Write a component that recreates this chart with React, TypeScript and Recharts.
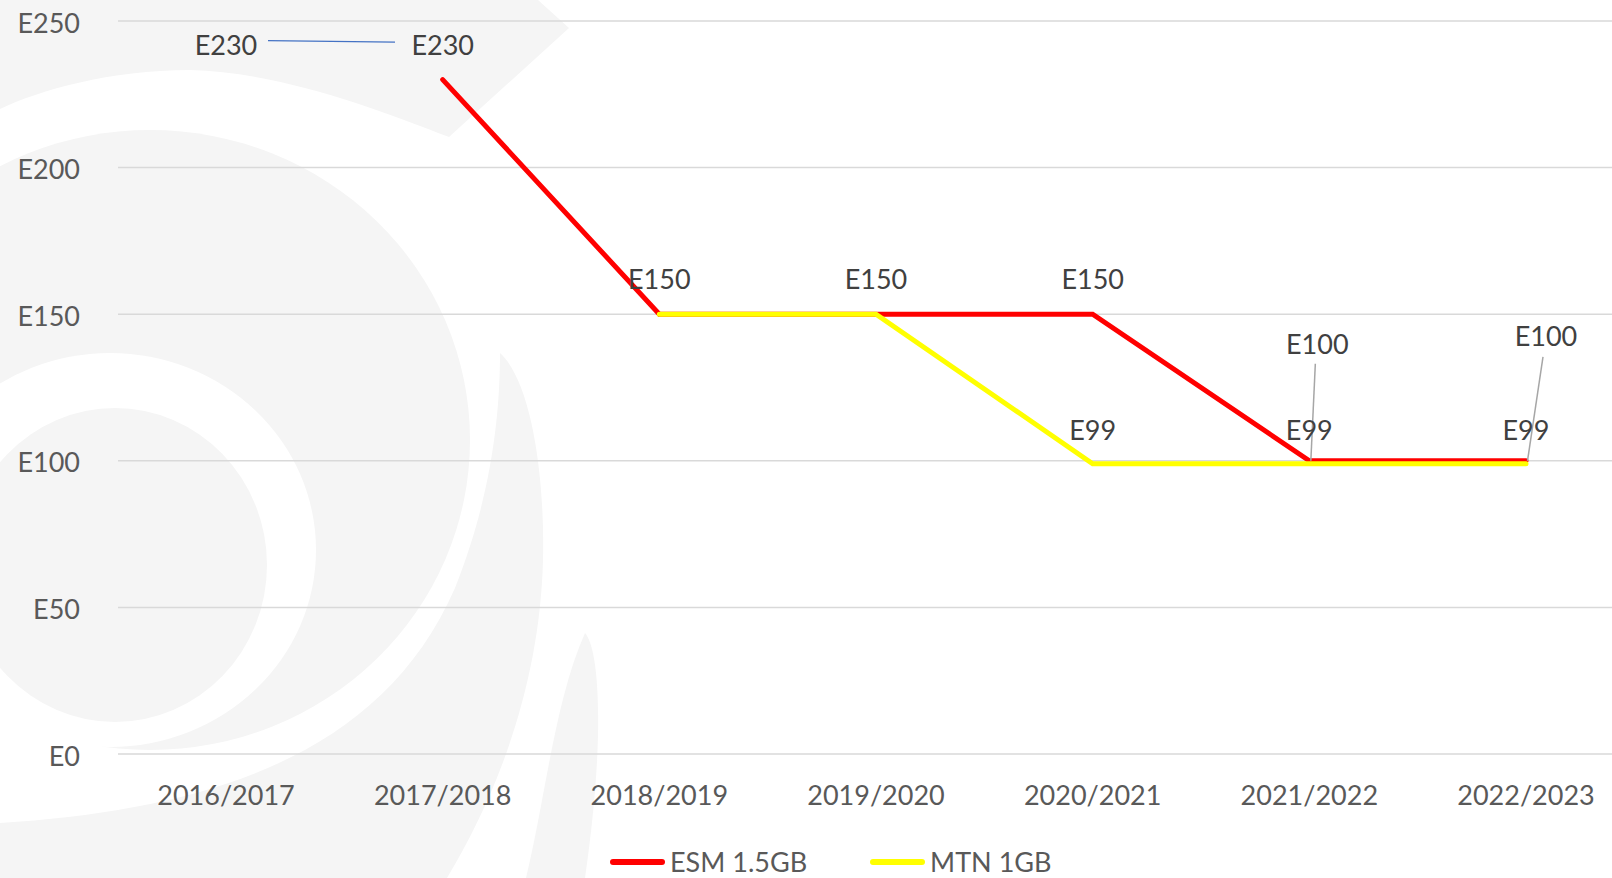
import React from 'react';
import { LineChart, Line, XAxis, YAxis, CartesianGrid, LabelList, Legend, ReferenceDot } from 'recharts';

// ---- data ----
const categories = ['2016/2017', '2017/2018', '2018/2019', '2019/2020', '2020/2021', '2021/2022', '2022/2023'];
const esmValues: (number | null)[] = [null, 230, 150, 150, 150, 100, 100];
const mtnValues: (number | null)[] = [null, null, 150, 150, 99, 99, 99];
const yTicks = [0, 50, 100, 150, 200, 250];
const seriesNames = ['ESM 1.5GB', 'MTN 1GB'];
const seriesColors = ['#FF0000', '#FFFF00'];
const extraLabelCategory = '2016/2017';
const extraLabelValue = 230;

const data = categories.map((c, i) => ({ category: c, esm: esmValues[i], mtn: mtnValues[i] }));

// ---- style ----
const FONT = 'Lato, "Open Sans", "Noto Sans", sans-serif';
const FS = 27;
const LABEL_COLOR = '#404040';
const TICK_COLOR = '#595959';
const LEADER = '#a6a6a6';

const fmt = (v: any) => `E${v}`;

const Txt = ({ x, y, children }: any) => (
  <text x={x} y={y} textAnchor="middle" fontFamily={FONT} fontSize={FS} fill={LABEL_COLOR}>
    {children}
  </text>
);

// leader-label layout for ESM (by index)
const esmLeader: Record<number, { dx: number; dy: number; lx: number; ly: number }> = {
  5: { dx: 8, dy: -107, lx: 6, ly: -97 },
  6: { dx: 20, dy: -115, lx: 17, ly: -104 },
};

const EsmLabel = (props: any) => {
  const { x, y, value, index } = props;
  if (value == null || x == null || y == null) return null;
  const l = esmLeader[index];
  if (l) {
    return (
      <g>
        <line x1={x + l.lx} y1={y + l.ly} x2={x + 1.5} y2={y} stroke={LEADER} strokeWidth={1.5} />
        <Txt x={x + l.dx} y={y + l.dy}>{fmt(value)}</Txt>
      </g>
    );
  }
  return <Txt x={x} y={y - 25}>{fmt(value)}</Txt>;
};

const MtnLabel = (props: any) => {
  const { x, y, value, index } = props;
  if (value == null || x == null || y == null) return null;
  if (esmValues[index] === value) return null;
  return <Txt x={x} y={y - 24}>{fmt(value)}</Txt>;
};

const ExtraLabel = (props: any) => {
  const vb = props.viewBox || {};
  const cx = (vb.x ?? 0) + (vb.width ?? 0) / 2;
  const cy = (vb.y ?? 0) + (vb.height ?? 0) / 2;
  return (
    <g>
      <line x1={cx + 42} y1={cy - 39} x2={cx + 169} y2={cy - 37.5} stroke="#4472C4" strokeWidth={1.2} />
      <Txt x={cx} y={cy - 25}>{fmt(extraLabelValue)}</Txt>
    </g>
  );
};

const LegendContent = (props: any) => {
  const payload = props.payload || [];
  return (
    <div style={{ height: 40, position: 'relative', fontFamily: FONT, fontSize: FS, color: TICK_COLOR }}>
      <div style={{ position: 'absolute', left: 610, top: 10, height: 27, display: 'flex', alignItems: 'center', lineHeight: '27px', whiteSpace: 'nowrap' }}>
        {payload.map((p: any, i: number) => (
          <div key={i} style={{ display: 'flex', alignItems: 'center', marginRight: 63 }}>
            <div style={{ width: 55, height: 6, borderRadius: 3, background: p.color, marginRight: 5 }} />
            <span>{p.value}</span>
          </div>
        ))}
      </div>
    </div>
  );
};

const Watermark = () => (
  <svg width={1612} height={878} style={{ position: 'absolute', left: 0, top: 0 }}>
    <g fill="#f5f5f5">
      <path d="M0,0 L538,0 L569,28 L449,137 C380,110 280,72 190,70 C110,70 40,90 0,109 Z" />
      <ellipse cx={150} cy={440} rx={320} ry={310} />
    </g>
    <ellipse cx={110} cy={550} rx={206} ry={197} fill="#ffffff" />
    <g fill="#f5f5f5">
      <ellipse cx={115} cy={565} rx={152} ry={157} />
      <path d="M0,823 C200,810 380,760 455,588 C490,500 500,420 500,353 C530,380 545,470 543,560 C540,680 500,790 447,878 L0,878 Z" />
      <path d="M585,633 C600,650 605,740 585,878 L526,878 C545,800 555,700 585,633 Z" />
    </g>
  </svg>
);

export default function App() {
  return (
    <div style={{ position: 'fixed', left: 0, top: 0, width: 1612, height: 878, overflow: 'hidden', background: '#ffffff' }}>
      <Watermark />
      <div style={{ position: 'absolute', left: 0, top: 0 }}>
        <LineChart width={1634} height={878} data={data} margin={{ top: 21, right: 0, bottom: 0, left: 0 }}>
          <CartesianGrid vertical={false} stroke="#d9d9d9" strokeWidth={1.5} />
          <XAxis
            dataKey="category"
            axisLine={false}
            tickLine={false}
            tickSize={0}
            tickMargin={32}
            height={84}
            interval={0}
            padding={{ left: 108, right: 108 }}
            tick={{ fill: TICK_COLOR, fontSize: FS, fontFamily: FONT }}
          />
          <YAxis
            domain={[0, 250]}
            ticks={yTicks}
            tickFormatter={fmt}
            axisLine={false}
            tickLine={false}
            tickSize={0}
            tickMargin={38}
            width={118}
            tick={{ fill: TICK_COLOR, fontSize: FS, fontFamily: FONT, dy: 2 }}
          />
          <Legend verticalAlign="bottom" content={<LegendContent />} wrapperStyle={{ left: 0, width: 1634 }} />
          <Line
            type="linear"
            dataKey="esm"
            name={seriesNames[0]}
            stroke={seriesColors[0]}
            strokeWidth={5}
            strokeLinecap="round"
            dot={false}
            activeDot={false}
            isAnimationActive={false}
          >
            <LabelList dataKey="esm" content={<EsmLabel />} />
          </Line>
          <Line
            type="linear"
            dataKey="mtn"
            name={seriesNames[1]}
            stroke={seriesColors[1]}
            strokeWidth={5}
            strokeLinecap="round"
            dot={false}
            activeDot={false}
            isAnimationActive={false}
          >
            <LabelList dataKey="mtn" content={<MtnLabel />} />
          </Line>
          <ReferenceDot
            x={extraLabelCategory}
            y={extraLabelValue}
            r={1}
            fill="none"
            stroke="none"
            ifOverflow="visible"
            label={<ExtraLabel />}
          />
        </LineChart>
      </div>
    </div>
  );
}
